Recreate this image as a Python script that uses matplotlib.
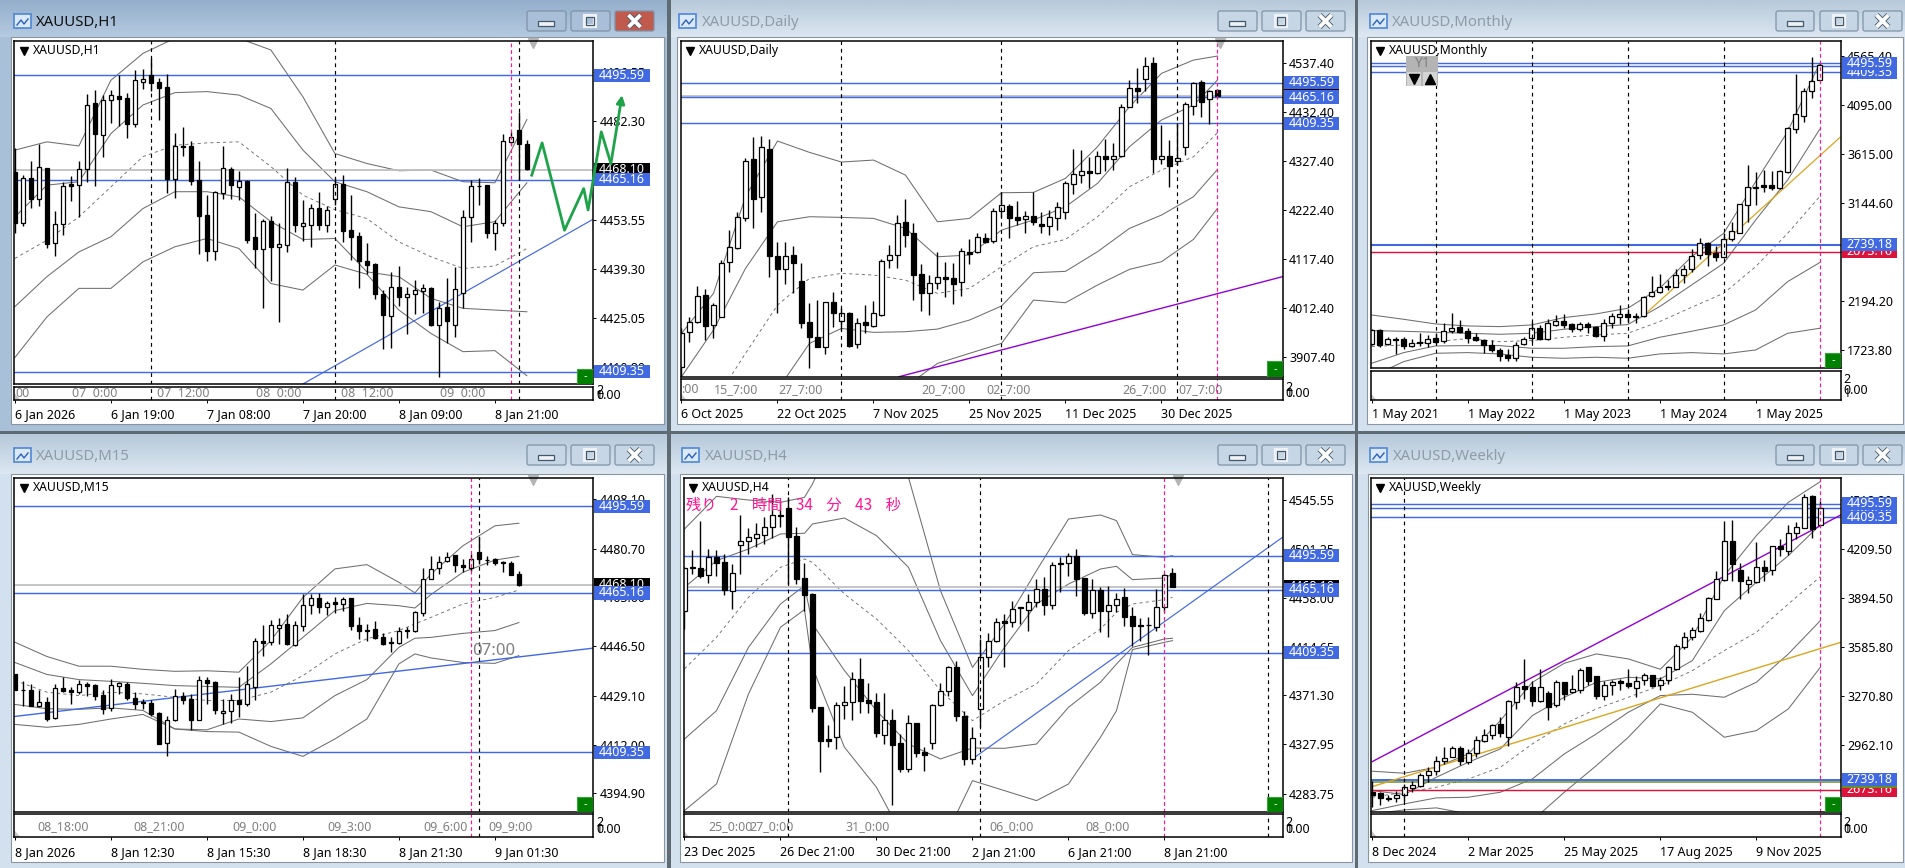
import numpy as np
import matplotlib
matplotlib.use("Agg")
import matplotlib.pyplot as plt
from matplotlib.patches import Rectangle, FancyBboxPatch, Polygon
from matplotlib.transforms import blended_transform_factory

plt.rcParams['font.family'] = ['Noto Sans', 'Noto Sans CJK JP', 'DejaVu Sans']

# ---- H1 ----
h1_high = [4474.3,4466.5,4470.6,4475.7,4468.7,4456.2,4464.6,4466.3,4470.5,4490.1,
           4491.2,4489.8,4491.4,4495.6,4490.3,4497.0,4497.5,4500.7,4494.9,4495.9,
           4478.8,4480.5,4476.5,4470.5,4460.8,4462.0,4475.0,4469.0,4467.8,4465.1,
           4455.4,4453.9,4454.6,4452.5,4468.5,4466.0,4459.3,4458.1,4461.7,4457.5,
           4465.6,4466.5,4460.7,4450.0,4446.7,4440.9,4433.1,4438.4,4440.1,4433.9,
           4436.0,4435.0,4433.9,4429.7,4436.5,4439.9,4456.5,4465.1,4465.6,4463.6,
           4453.4,4478.4,4479.1,4484.8,4476.7]
h1_low = [4449.6,4451.7,4457.1,4457.5,4445.2,4443.0,4449.0,4458.9,4454.4,4464.6,
          4463.3,4471.9,4481.7,4480.8,4477.3,4480.4,4491.7,4491.0,4482.5,4461.4,
          4459.8,4472.0,4463.6,4443.6,4441.6,4441.8,4459.6,4459.5,4459.3,4446.9,
          4439.4,4427.9,4435.6,4423.8,4444.1,4450.0,4447.4,4445.7,4450.5,4450.0,
          4457.8,4447.1,4441.8,4433.7,4437.7,4430.4,4416.0,4416.2,4428.4,4420.3,
          4426.1,4426.5,4422.8,4407.9,4417.8,4419.5,4427.8,4447.0,4457.7,4448.2,
          4444.7,4451.7,4475.2,4465.1,4468.1]
h1_top = [4467.3,4465.8,4465.8,4468.8,4468.5,4452.2,4463.5,4463.9,4468.2,4486.8,
          4487.4,4488.5,4489.7,4489.4,4488.9,4494.1,4494.6,4495.6,4493.6,4492.0,
          4475.0,4475.1,4475.0,4465.1,4454.9,4461.5,4468.5,4468.3,4464.7,4464.8,
          4448.4,4453.2,4453.3,4446.4,4464.4,4464.5,4452.5,4457.1,4457.1,4456.5,
          4463.8,4463.8,4450.5,4448.8,4441.6,4440.7,4432.0,4433.9,4433.9,4432.0,
          4433.0,4433.6,4433.6,4428.0,4428.2,4433.3,4454.4,4463.5,4463.5,4463.6,
          4452.5,4476.3,4477.5,4479.5,4475.7]
h1_bottom = [4452.7,4452.7,4459.6,4459.6,4446.5,4446.7,4452.2,4463.4,4463.7,4468.4,
             4478.6,4478.3,4488.5,4488.7,4481.4,4481.5,4493.7,4493.4,4491.9,4465.3,
             4465.5,4474.8,4464.9,4454.7,4444.5,4444.5,4461.2,4463.6,4463.1,4447.6,
             4445.1,4445.1,4445.7,4445.7,4446.3,4452.1,4451.8,4452.1,4452.0,4452.1,
             4459.6,4450.3,4448.6,4441.6,4440.5,4432.0,4425.8,4425.6,4431.2,4431.2,
             4432.1,4432.9,4423.0,4423.0,4424.2,4423.0,4432.3,4454.4,4463.3,4449.8,
             4449.8,4452.5,4476.2,4475.6,4468.2]
h1_color = "BWBWBWWBWW" "BWWBBWWBBB" "WBBBBWWBWB" "BWBWWBWWBW" "WBBBBBBWBW" "WWBWBWWWBB" "WWWBB"
h1_band_x = list(range(0, 65, 4))
h1_upper2 = [4473.8,4476.2,4475.0,4494.1,4501.9,4506.3,4506.3,4506.3,4502.9,4489.3,4472.8,4469.9,4467.8,4468.0,4464.6,4464.3,4482.7]
h1_upper1 = [4454.4,4463.6,4464.6,4478.6,4486.9,4490.5,4490.8,4489.8,4485.9,4473.8,4464.6,4461.7,4457.3,4455.9,4451.5,4453.0,4464.3]
h1_mid = [4442.3,4447.6,4454.4,4463.1,4471.9,4475.2,4475.9,4476.2,4469.0,4460.7,4456.5,4453.9,4447.1,4442.8,4439.4,4440.1,4445.2]
h1_lower1 = [4428.3,4437.0,4444.2,4448.6,4456.8,4461.7,4461.7,4460.2,4453.0,4447.8,4448.1,4438.4,4437.0,4430.7,4427.8,4427.3,4426.8]
h1_lower2 = [4413.5,4425.3,4433.6,4433.6,4441.3,4445.7,4448.1,4445.2,4435.0,4433.1,4440.4,4437.7,4427.3,4420.5,4415.2,4415.5,4408.2]
h1_yticks = [4496.55, 4482.30, 4453.55, 4439.30, 4425.05, 4410.80]
h1_dates = ["6 Jan 2026", "6 Jan 19:00", "7 Jan 08:00", "7 Jan 20:00", "8 Jan 09:00", "8 Jan 21:00"]
h1_sep_pos = [0, 7.2, 17.8, 30.2, 40.8, 53.2]
h1_sep_text = ["00", "07  0:00", "07  12:00", "08  0:00", "08  12:00", "09  0:00"]
h1_trend_x = [36.0, 72.2]
h1_trend_y = [4405.8, 4453.6]
h1_arrow_x = [64.6, 65.9, 68.7, 71.1, 71.65, 73.3, 74.5, 75.9]
h1_arrow_y = [4466.5, 4475.9, 4450.5, 4462.6, 4456.4, 4479.1, 4469.9, 4489.8]

# ---- M15 ----
m15_high = [4436.8,4434.2,4433.3,4431.0,4428.6,4433.1,4435.6,4432.1,4434.8,4433.9,
            4433.1,4431.0,4435.1,4433.9,4433.9,4430.4,4428.1,4427.7,4423.3,4422.2,
            4431.5,4430.4,4429.8,4436.0,4435.6,4434.2,4428.1,4429.8,4435.6,4439.7,
            4449.4,4454.1,4455.7,4456.4,4457.8,4455.2,4464.8,4464.8,4465.3,4462.2,
            4463.6,4463.9,4463.4,4456.6,4454.3,4455.5,4451.3,4449.6,4453.1,4453.1,
            4459.0,4473.9,4478.1,4478.1,4479.5,4478.4,4477.1,4478.8,4484.7,4478.2,
            4477.4,4476.5,4476.5,4472.8]
m15_low = [4431.0,4425.7,4425.4,4425.1,4420.2,4421.0,4430.4,4426.1,4429.8,4429.2,
           4427.5,4422.8,4423.7,4429.8,4427.5,4424.6,4424.6,4422.2,4412.1,4407.9,
           4420.2,4426.3,4417.2,4420.5,4426.1,4422.6,4419.1,4419.5,4421.6,4425.7,
           4427.7,4443.2,4447.1,4447.3,4447.1,4446.7,4451.7,4457.8,4458.0,4457.6,
           4458.0,4459.0,4452.2,4449.1,4448.3,4449.1,4447.1,4444.4,4447.3,4449.4,
           4451.4,4457.2,4470.1,4471.8,4476.0,4472.5,4472.5,4473.0,4475.3,4475.1,
           4475.1,4472.5,4471.4,4467.7]
m15_top = [4436.8,4431.2,4431.2,4426.9,4426.9,4431.8,4431.8,4431.2,4433.3,4433.3,
           4432.8,4429.3,4432.8,4433.5,4433.1,4428.4,4426.9,4426.5,4423.0,4420.5,
           4428.9,4428.9,4427.9,4434.5,4434.5,4433.8,4423.7,4427.8,4427.6,4433.1,
           4448.2,4448.2,4454.1,4454.1,4454.3,4454.0,4460.9,4463.4,4463.4,4461.5,
           4461.9,4463.2,4463.4,4453.8,4452.3,4452.4,4449.6,4447.9,4451.7,4452.1,
           4458.4,4470.0,4473.5,4475.9,4477.7,4478.4,4474.9,4477.2,4479.5,4476.8,
           4477.0,4476.0,4475.6,4471.7]
m15_bottom = [4431.2,4431.0,4425.6,4425.6,4421.0,4421.3,4430.7,4430.3,4430.3,4432.7,
              4429.1,4424.6,4424.8,4432.4,4428.4,4426.3,4426.5,4422.8,4412.3,4412.5,
              4420.5,4427.8,4420.7,4420.7,4433.5,4424.0,4423.0,4423.7,4426.1,4426.1,
              4432.1,4447.8,4447.9,4453.0,4447.3,4447.1,4453.7,4460.9,4460.2,4460.2,
              4461.4,4461.3,4453.7,4452.0,4452.0,4449.4,4447.3,4447.5,4447.6,4451.7,
              4452.0,4458.3,4470.2,4473.8,4476.3,4475.1,4474.2,4474.0,4477.0,4476.6,
              4475.7,4475.7,4471.6,4468.1]
m15_color = "BBBWBWBBWB" "BBWWBBBBBW" "WBBWBBWWBW" "WBWWBWWWBW" "BWBBBBBBWB" "WWWWWBBWBB" "BBBB"
m15_band_x = [0, 4, 8, 12, 16, 20, 24, 28, 32, 36, 40, 44, 48, 50, 52, 56, 60, 63]
m15_upper2 = [4447.9,4442.9,4439.5,4439.5,4438.4,4437.7,4437.9,4437.4,4448.5,4463.6,4473.6,4475.1,4468.9,4465.2,4471.8,4481.7,4488.7,4489.6]
m15_upper1 = [4440.8,4436.6,4434.8,4434.2,4433.5,4432.7,4432.4,4432.1,4440.3,4449.6,4459.0,4461.5,4460.7,4459.9,4464.6,4472.4,4476.7,4478.0]
m15_mid = [4434.5,4430.4,4429.2,4430.4,4429.8,4428.6,4427.5,4427.5,4430.4,4436.2,4443.8,4449.1,4452.0,4454.3,4456.6,4461.3,4463.6,4466.2]
m15_lower1 = [4426.1,4424.6,4424.4,4424.9,4424.0,4417.5,4417.2,4421.0,4420.1,4421.4,4429.2,4434.8,4446.1,4449.3,4449.6,4451.0,4452.0,4454.8]
m15_lower2 = [4419.1,4418.1,4419.1,4421.0,4422.6,4417.5,4416.6,4416.4,4411.4,4407.9,4414.0,4421.0,4440.3,4443.8,4442.4,4440.8,4440.5,4443.2]
m15_yticks = [4498.10, 4480.70, 4463.60, 4446.50, 4429.10, 4412.00, 4394.90]
m15_dates = ["8 Jan 2026", "8 Jan 12:30", "8 Jan 15:30", "8 Jan 18:30", "8 Jan 21:30", "9 Jan 01:30"]
m15_sep_pos = [2.8, 14.8, 27.2, 39.1, 51.1, 59.2]
m15_sep_text = ["08_18:00", "08_21:00", "09_0:00", "09_3:00", "09_6:00", "09_9:00"]
m15_trend_x = [0.0, 72.2]
m15_trend_y = [4421.9, 4445.8]

# ---- H4 ----
h4_high = [4485.3,4500.7,4526.3,4501.6,4500.7,4497.2,4488.3,4531.6,4520.3,4524.5,
           4529.8,4550.6,4544.7,4547.6,4520.9,4488.8,4462.1,4360.6,4344.9,4365.1,
           4379.9,4391.8,4404.5,4382.0,4373.1,4373.1,4359.4,4336.9,4354.1,4346.4,
           4325.0,4363.6,4382.0,4397.7,4402.2,4357.0,4342.8,4421.5,4426.8,4439.9,
           4443.7,4455.6,4449.7,4461.5,4474.6,4477.0,4489.7,4494.8,4497.8,4501.6,
           4475.8,4474.9,4467.5,4468.7,4462.1,4466.9,4449.7,4439.9,4441.4,4466.0,
           4479.9,4484.7]
h4_low = [4430.4,4479.4,4475.8,4471.3,4477.9,4460.4,4448.5,4479.3,4497.2,4503.1,
          4506.1,4511.4,4520.9,4470.4,4470.4,4446.7,4356.2,4303.3,4325.6,4323.5,
          4349.9,4349.3,4355.9,4355.3,4334.5,4328.0,4273.9,4303.3,4303.3,4316.1,
          4304.2,4323.5,4362.1,4371.0,4348.1,4309.6,4310.1,4342.8,4396.2,4418.5,
          4396.2,4431.9,4434.8,4428.3,4449.7,4443.1,4448.2,4463.0,4477.9,4460.0,
          4443.1,4440.2,4427.4,4423.5,4445.2,4432.7,4415.5,4419.4,4407.5,4428.3,
          4445.2,4468.1]
h4_top = [4484.7,4485.3,4484.7,4494.2,4494.2,4490.0,4479.9,4509.0,4512.0,4514.7,
          4521.5,4531.6,4531.9,4538.1,4512.9,4475.5,4461.3,4360.6,4332.4,4362.4,
          4365.1,4385.5,4385.5,4367.1,4365.1,4349.3,4349.3,4328.6,4346.4,4346.4,
          4320.5,4363.0,4374.9,4396.2,4396.2,4352.6,4333.0,4405.7,4420.0,4436.3,
          4437.2,4448.2,4449.7,4454.7,4465.7,4465.7,4487.1,4489.1,4495.1,4495.7,
          4475.8,4465.1,4465.1,4452.0,4456.8,4459.2,4441.6,4433.9,4434.2,4449.7,
          4478.2,4479.9]
h4_bottom = [4446.7,4484.4,4477.6,4478.2,4489.5,4465.4,4464.5,4505.5,4509.0,4511.7,
             4514.4,4521.5,4531.3,4512.6,4474.9,4460.6,4360.0,4330.9,4330.9,4334.5,
             4362.4,4365.1,4366.6,4364.8,4338.0,4336.3,4327.4,4306.0,4306.0,4319.7,
             4318.5,4329.1,4363.0,4374.9,4353.2,4314.9,4314.9,4359.4,4405.7,4420.0,
             4436.0,4436.9,4449.0,4447.6,4454.7,4452.0,4452.0,4488.0,4488.8,4474.9,
             4444.3,4444.3,4446.1,4446.1,4452.0,4441.4,4433.3,4433.3,4433.6,4432.4,
             4449.7,4468.1]
h4_color = "WWBWBBWWWW" "WWBBBBBBBW" "WWBBBWBBWB" "BWWWBBWWWW" "BWBWWBWBWB" "BWBWWBBBBW" "WB"
h4_band_x = [0, 4, 8, 12, 15, 16, 20, 24, 28, 32, 36, 40, 44, 48, 52, 54, 56, 60, 61]
h4_upper2 = [4519.4,4548.5,4545.2,4543.2,4547.6,4559.5,4621.8,4621.8,4565.4,4464.5,4396.2,4434.8,4482.3,4528.3,4531.9,4526.9,4496.6,4494.2,4495.7]
h4_upper1 = [4467.5,4491.2,4501.6,4515.0,4515.6,4523.9,4529.2,4513.5,4485.3,4420.0,4371.0,4414.0,4452.6,4470.4,4483.8,4486.2,4474.3,4475.8,4479.4]
h4_mid = [4394.8,4423.0,4458.6,4485.3,4492.7,4489.7,4461.5,4439.3,4411.1,4375.5,4348.7,4366.5,4381.4,4411.1,4430.4,4445.2,4452.6,4456.5,4458.6]
h4_lower1 = [4332.4,4357.6,4414.0,4452.6,4468.9,4434.8,4393.3,4357.6,4327.9,4314.6,4324.4,4324.1,4327.9,4360.6,4382.9,4399.2,4414.0,4421.5,4422.1]
h4_lower2 = [4268.6,4292.3,4372.5,4431.9,4447.6,4396.2,4325.0,4289.4,4236.0,4236.0,4295.3,4286.4,4277.5,4292.3,4333.9,4357.6,4412.0,4418.5,4420.0]
h4_yticks = [4545.55, 4501.25, 4458.00, 4414.65, 4371.30, 4327.95, 4283.75]
h4_dates = ["23 Dec 2025", "26 Dec 21:00", "30 Dec 21:00", "2 Jan 21:00", "6 Jan 21:00", "8 Jan 21:00"]
h4_sep_pos = [3.0, 8.1, 20.1, 38.1, 50.1]
h4_sep_text = ["25_0:00", "27_0:00", "31_0:00", "06_0:00", "08_0:00"]
h4_trend_x = [36.4, 74.75]
h4_trend_y = [4316.7, 4512.0]

# ---- Daily ----
d1_high = [3969.5,3994.5,4060.0,4053.0,4023.0,4116.0,4180.0,4219.0,4333.8,4380.0,
           4381.7,4374.5,4155.2,4155.2,4146.0,4108.8,4023.0,4030.2,4026.7,4046.7,
           4012.4,4005.0,3991.0,4019.5,4028.0,4117.4,4148.0,4212.4,4246.7,4194.5,
           4107.4,4083.8,4132.4,4112.4,4108.8,4141.0,4160.2,4174.5,4173.1,4226.7,
           4262.4,4236.0,4241.7,4221.7,4262.4,4219.5,4223.0,4241.0,4286.0,4353.8,
           4351.7,4337.4,4350.2,4374.5,4366.0,4450.2,4501.7,4526.7,4551.7,4551.7,
           4405.2,4373.0,4408.8,4455.2,4498.0,4501.7,4480.2,4481.7]
d1_low = [3866.0,3941.0,3981.7,3944.5,3948.0,3993.0,4091.0,4139.5,4200.2,4183.8,
          4219.5,4080.2,4003.0,4064.5,4044.5,3969.5,3885.2,3930.0,3914.5,3973.0,
          3966.0,3929.0,3928.0,3958.8,3973.0,3996.7,4098.0,4098.8,4144.5,4030.2,
          4007.4,3998.0,4053.0,4037.4,4021.7,4038.8,4107.4,4130.2,4153.0,4153.0,
          4207.4,4163.8,4191.0,4174.5,4191.0,4173.1,4169.5,4180.2,4203.8,4257.4,
          4281.7,4269.5,4300.2,4307.4,4308.8,4336.0,4443.0,4451.7,4478.8,4303.0,
          4321.7,4273.0,4319.5,4341.0,4426.7,4423.0,4407.4,4467.4]
d1_top = [3960.2,3983.8,4039.5,4040.2,4018.8,4110.2,4143.0,4207.4,4327.4,4333.0,
          4357.4,4355.0,4125.2,4125.2,4127.4,4070.2,3982.4,3950.2,4025.2,4025.2,
          4001.7,4001.7,3980.2,3982.4,4001.7,4114.5,4126.0,4194.5,4196.7,4173.1,
          4085.2,4067.4,4078.8,4079.5,4076.7,4134.5,4132.4,4164.5,4163.0,4220.2,
          4233.0,4231.7,4207.4,4209.5,4209.5,4193.0,4207.4,4228.8,4280.2,4299.5,
          4306.0,4306.0,4338.8,4338.8,4338.8,4443.0,4483.8,4483.8,4531.7,4537.4,
          4338.8,4338.8,4333.8,4449.5,4494.5,4497.4,4478.8,4480.2]
d1_bottom = [3887.4,3960.9,3983.8,3975.2,3976.0,3994.5,4111.0,4141.7,4206.0,4246.0,
             4251.7,4125.2,4097.4,4096.0,4110.2,3980.2,3951.7,3930.2,3930.2,4001.7,
             3984.6,3932.4,3935.2,3977.4,3975.2,3998.0,4115.2,4127.4,4170.2,4084.5,
             4046.0,4044.5,4067.4,4076.0,4064.5,4069.5,4128.8,4133.8,4155.2,4157.4,
             4221.7,4205.2,4201.7,4204.5,4198.0,4189.5,4189.5,4206.7,4219.5,4279.5,
             4298.8,4301.7,4302.4,4333.0,4333.0,4338.0,4444.5,4478.8,4504.5,4331.7,
             4333.0,4318.0,4328.0,4358.8,4446.7,4455.2,4460.2,4468.1]
d1_color = "WWWBWWWWWB" "WBBWBBBBWB" "WBWBWWWWBB" "BWWBBWBWBW" "WBBWBBWWWW" "WBWBWWWBWB" "WBWWWBWB"
d1_band_x = list(range(0, 65, 4)) + [67]
d1_upper2 = [3958.8,4044.5,4251.7,4371.0,4346.7,4326.0,4330.2,4298.0,4198.0,4205.2,4260.2,4261.0,4291.0,4358.8,4444.5,4516.0,4544.5,4553.1]
d1_upper1 = [3866.0,3966.0,4098.0,4198.0,4208.8,4207.4,4205.2,4183.8,4123.0,4126.7,4180.2,4201.7,4230.2,4280.2,4358.8,4416.0,4448.0,4501.7]
d1_mid = [3780.0,3808.8,3916.0,4019.5,4076.7,4087.4,4083.8,4073.0,4044.5,4055.2,4101.7,4144.5,4160.2,4208.8,4273.0,4308.8,4337.4,4388.8]
d1_lower1 = [3744.5,3744.5,3758.8,3837.4,3937.4,3969.5,3961.0,3962.4,3968.0,3987.4,4017.4,4088.8,4091.7,4133.8,4183.8,4212.4,4251.7,4310.2]
d1_lower2 = [3673.0,3673.0,3673.0,3673.0,3673.0,3673.0,3673.0,3844.5,3894.5,3916.0,3937.4,4030.2,4024.5,4062.4,4096.0,4112.4,4160.2,4226.7]
d1_yticks = [4537.40, 4432.40, 4327.40, 4222.40, 4117.40, 4012.40, 3907.40]
d1_dates = ["6 Oct 2025", "22 Oct 2025", "7 Nov 2025", "25 Nov 2025", "11 Dec 2025", "30 Dec 2025"]
d1_sep_pos = [-0.1, 4.07, 12.05, 30.0, 38.06, 55.06, 62.1]
d1_sep_text = [":00", "15_7:00", "27_7:00", "20_7:00", "02_7:00", "26_7:00", "07_7:00"]
d1_trend_x = [27.2, 75.1]
d1_trend_y = [3866.0, 4080.2]

# ---- Monthly ----
mn_high = [1920.7,1920.7,1843.3,1843.3,1843.3,1824.0,1882.0,1866.0,1882.0,1978.8,
           2075.6,2011.0,1930.4,1882.0,1824.0,1817.5,1736.9,1727.2,1801.3,1843.3,
           1994.9,1962.7,2017.5,2059.4,2069.0,1985.2,1994.9,1994.9,1953.0,2017.5,
           2075.6,2156.0,2114.3,2082.0,2243.3,2436.9,2456.2,2398.2,2501.4,2543.3,
           2694.9,2801.4,2769.0,2727.2,2849.8,2962.7,3133.7,3511.1,3440.2,3462.7,
           3453.0,3462.7,3875.7,4391.8,4253.0,4553.1,4495.0]
mn_low = [1769.0,1753.0,1769.0,1682.0,1727.0,1753.0,1759.4,1753.0,1778.8,1791.7,
          1888.5,1882.0,1791.7,1807.8,1688.4,1704.6,1617.5,1617.5,1617.5,1765.9,
          1801.3,1817.5,1817.5,1953.0,1930.4,1898.1,1907.8,1882.0,1849.7,1811.0,
          1933.6,1972.3,1994.9,1985.2,2036.8,2230.4,2275.6,2301.4,2327.2,2372.4,
          2478.8,2598.2,2533.7,2585.3,2607.9,2778.8,2849.8,2962.7,3124.0,3253.0,
          3269.0,3275.6,3430.5,3824.0,3930.5,4159.6,4333.8]
mn_top = [1914.3,1914.3,1827.0,1827.0,1824.0,1785.0,1794.8,1830.3,1833.6,1908.0,
          1936.8,1940.0,1901.4,1843.3,1814.3,1772.3,1717.5,1669.0,1772.3,1824.0,
          1930.4,1930.4,1978.8,1998.0,1998.0,1969.0,1969.0,1969.0,1946.5,1985.2,
          2046.5,2065.8,2065.8,2049.8,2236.9,2285.3,2333.6,2340.0,2449.8,2507.8,
          2633.7,2753.0,2753.0,2656.2,2798.2,2869.0,3130.5,3295.0,3301.4,3317.6,
          3317.6,3456.3,3866.0,4007.9,4224.0,4320.9,4475.7]
mn_bottom = [1775.6,1769.0,1775.6,1820.7,1762.6,1762.6,1785.0,1785.0,1798.0,1804.6,
             1904.6,1891.7,1840.0,1814.3,1772.3,1717.5,1665.9,1640.0,1640.0,1775.6,
             1833.6,1824.0,1830.3,1965.9,1965.9,1927.2,1920.7,1946.5,1853.0,1853.0,
             1985.2,2043.3,2043.3,2043.3,2046.5,2243.3,2285.3,2333.6,2333.6,2449.8,
             2507.8,2636.9,2649.8,2624.0,2624.0,2794.9,2856.3,3127.2,3291.7,3301.4,
             3285.3,3285.3,3446.6,3862.8,3988.6,4224.0,4337.0]
mn_color = "WBWBBWBWBW" "WBBBBBBBWW" "WBWWBBWBBW" "WWBBWWWBWW" "WWBBWWWWBB" "BWWWWWW"
mn_band_x = list(range(0, 57, 4))
mn_upper2 = [2059.4,2017.5,1972.3,1953.0,1946.5,1962.7,2033.6,2069.0,2123.9,2317.5,2624.0,2849.8,3349.8,3833.7,4495.0]
mn_upper1 = [1908.0,1901.4,1891.7,1882.0,1872.3,1882.0,1920.7,1946.5,1965.9,2140.0,2349.8,2559.5,2978.8,3365.9,3856.3]
mn_mid = [1753.0,1769.0,1801.3,1830.3,1801.3,1811.0,1843.3,1866.0,1882.0,1994.9,2133.6,2269.0,2527.2,2849.8,3204.7]
mn_lower1 = [1591.7,1694.9,1759.4,1762.6,1762.6,1736.9,1736.9,1753.0,1759.4,1843.3,1901.4,1962.7,2107.8,2382.0,2565.9]
mn_lower2 = [1462.6,1607.8,1688.4,1694.9,1682.0,1649.8,1640.0,1649.8,1640.0,1682.0,1694.9,1682.0,1720.7,1882.0,1930.4]
mn_yticks = [4565.40, 4095.00, 3615.00, 3144.60, 2664.60, 2194.20, 1723.80]
mn_dates = ["1 May 2021", "1 May 2022", "1 May 2023", "1 May 2024", "1 May 2025"]
mn_trend_x = [34.3, 58.55]
mn_trend_y = [2075.6, 3778.9]

# ---- Weekly ----
w1_high = [2733.0,2658.7,2643.8,2665.0,2711.8,2733.0,2779.7,2817.9,2892.0,2945.0,
           2955.7,2955.7,2934.5,3019.4,3061.8,3093.6,3136.0,3246.4,3358.8,3507.3,
           3365.2,3443.7,3305.8,3373.7,3358.8,3403.3,3450.0,3454.3,3401.2,3369.4,
           3373.7,3380.0,3443.7,3401.2,3416.0,3407.6,3390.6,3464.9,3602.8,3677.0,
           3708.8,3797.9,3899.8,4069.5,4387.7,4392.0,4116.0,4033.4,4249.8,4137.4,
           4228.6,4271.0,4360.0,4377.0,4557.4,4553.1,4510.7]
w1_low = [2563.3,2580.2,2605.7,2595.0,2605.7,2658.7,2690.5,2722.4,2771.2,2839.0,
          2881.5,2834.8,2839.0,2881.5,2977.0,2998.1,3013.0,2955.7,3189.2,3252.8,
          3210.3,3235.8,3119.1,3199.7,3246.4,3293.0,3288.8,3344.0,3252.8,3248.5,
          3280.3,3310.0,3322.7,3267.6,3344.0,3331.2,3310.0,3348.2,3437.3,3571.0,
          3628.2,3677.0,3751.3,3887.1,4005.9,4005.9,3889.2,3929.5,3993.1,4005.9,
          4044.0,4165.0,4171.3,4273.1,4338.9,4277.4,4358.0]
w1_top = [2658.7,2652.4,2622.7,2639.6,2690.5,2703.3,2771.2,2796.6,2860.2,2879.3,
          2938.8,2938.8,2911.2,2989.7,3025.8,3085.2,3091.5,3237.9,3327.0,3333.4,
          3327.0,3327.0,3288.8,3358.8,3358.8,3314.3,3437.3,3454.3,3397.0,3339.8,
          3358.8,3367.3,3352.4,3365.2,3403.3,3403.3,3371.6,3454.3,3588.0,3645.2,
          3689.8,3766.0,3893.4,4014.3,4256.2,4256.2,4071.6,4008.0,4090.7,4090.7,
          4224.4,4226.5,4307.0,4345.3,4536.2,4544.7,4470.4]
w1_bottom = [2643.8,2622.7,2618.4,2620.5,2643.8,2688.4,2701.2,2771.2,2796.6,2858.1,
             2885.7,2860.2,2851.8,2911.2,2987.6,3025.8,3038.5,3008.8,3231.6,3318.6,
             3242.1,3242.1,3204.0,3216.7,3286.7,3299.4,3312.2,3369.4,3274.0,3274.0,
             3339.8,3352.4,3337.6,3320.6,3373.7,3337.6,3339.8,3373.7,3445.8,3581.6,
             3645.2,3687.6,3757.6,3891.3,4010.1,4114.0,4005.9,3986.8,3999.5,4069.5,
             4071.6,4205.3,4196.8,4307.0,4343.2,4334.7,4362.2]
w1_color = "BBBWWWWWWW" "WBWWWWBWWB" "BWBWBWWBBW" "WBBWWBWWWW" "WWWWWBBWWB" "WBWWWBW"
w1_band_x = list(range(0, 57, 4))
w1_upper2 = [2792.4,2779.7,2817.9,2902.7,3114.9,3358.8,3479.7,3539.2,3507.3,3441.6,3645.2,4037.7,4292.2,4504.4,4635.9]
w1_upper1 = [2669.3,2643.8,2754.2,2849.7,2934.5,3146.7,3263.4,3358.8,3390.6,3380.0,3496.7,3814.9,3995.2,4165.0,4362.2]
w1_mid = [2626.9,2658.7,2690.5,2743.4,2817.9,2966.4,3093.6,3189.1,3263.4,3337.6,3433.0,3560.4,3677.0,3857.4,4031.3]
w1_lower1 = [2542.0,2584.5,2622.7,2626.9,2658.7,2743.4,2902.7,3030.0,3167.9,3274.0,3282.5,3263.4,3358.8,3539.2,3751.0]
w1_lower2 = [2520.9,2546.3,2559.1,2520.9,2457.2,2478.4,2658.7,2828.4,3008.8,3220.9,3167.9,3008.8,3051.0,3189.1,3454.3]
w1_yticks = [4518.20, 4209.50, 3894.50, 3585.80, 3270.80, 2962.10]
w1_dates = ["8 Dec 2024", "2 Mar 2025", "25 May 2025", "17 Aug 2025", "9 Nov 2025"]
w1_purple_x = [0.0, 58.56]
w1_purple_y = [2853.9, 4423.8]
w1_orange_x = [0.0, 58.56]
w1_orange_y = [2694.8, 3613.4]

# ---- price levels ----
BID = 4468.10
LEVEL_HI = 4495.59
LEVEL_MID = 4465.16
LEVEL_LO = 4409.35
LEVEL_BLUE2 = 2739.18
LEVEL_RED = 2673.16
LEVEL_OLIVE = 2725.0

BLUE = '#4169e1'
RED = '#dc143c'
OLIVE = '#6b8e23'
PINK = '#ff1493'
GREY_BAND = '#6e6e6e'
FW, FH = 1906, 868

fig = plt.figure(figsize=(FW / 100, FH / 100), dpi=100, facecolor='#5f6b73')
bg = fig.add_axes([0, 0, 1, 1], zorder=0)


def gradient(x0, y0, x1, y1, c0, c1):
    col = np.array([matplotlib.colors.to_rgb(c0), matplotlib.colors.to_rgb(c1)])
    img = np.linspace(col[0], col[1], 32).reshape(32, 1, 3)
    bg.imshow(img, extent=(x0, x1, y1, y0), aspect='auto', zorder=1, interpolation='bilinear')


def button(x0, y0, x1, y1, kind, active):
    fc = '#c05a4c' if kind == 'close' and active else ('#a9bfd8' if active else '#c6d6e5')
    bg.add_patch(FancyBboxPatch((x0 + 1, y0 + 1), x1 - x0 - 2, y1 - y0 - 2,
                                boxstyle='round,pad=0,rounding_size=2', fc=fc, ec='#7f93a8', lw=0.9, zorder=2))
    cx, cy = (x0 + x1) / 2, (y0 + y1) / 2
    if kind == 'min':
        bg.add_patch(Rectangle((cx - 8, cy + 0), 16, 5, fc='#eef2f6', ec='#44586c', lw=0.9, zorder=3))
    elif kind == 'max':
        bg.add_patch(Rectangle((cx - 5, cy - 5), 10, 10, fc='none', ec='#eef2f6', lw=3, zorder=3))
        bg.add_patch(Rectangle((cx - 4, cy - 4), 8, 8, fc='none', ec='#44586c', lw=0.9, zorder=3))
    else:
        bg.plot([cx - 6, cx + 6], [cy - 6, cy + 6], color='#44586c', lw=4, zorder=3, solid_capstyle='butt')
        bg.plot([cx - 6, cx + 6], [cy + 6, cy - 6], color='#44586c', lw=4, zorder=3, solid_capstyle='butt')
        bg.plot([cx - 6, cx + 6], [cy - 6, cy + 6], color='white', lw=2.8, zorder=4, solid_capstyle='butt')
        bg.plot([cx - 6, cx + 6], [cy + 6, cy - 6], color='white', lw=2.8, zorder=4, solid_capstyle='butt')


def window(x0, y0, x1, y1, inner_x0, inner_y0, inner_y1, title, title_x, icon_x, btn_x, active):
    edge = '#a8c0d8' if active else '#d3e1ee'
    bg.add_patch(Rectangle((x0, y0), x1 - x0, y1 - y0, fc=edge, ec='none', zorder=0.5))
    if active:
        gradient(x0, y0, x1, inner_y0, '#94aecb', '#b4cae0')
    else:
        gradient(x0, y0, x1, inner_y0, '#b7c9da', '#dce7f1')
    bg.add_patch(Rectangle((inner_x0, inner_y0), x1 - 3 - inner_x0, inner_y1 - inner_y0,
                           fc='white', ec='#8b959f', lw=0.8, zorder=1.5))
    cy = y0 + 22
    bg.add_patch(Rectangle((icon_x, cy - 8), 17, 14, fc='#dbe8f7', ec='#4f86d6', lw=1.2, zorder=2))
    bg.plot([icon_x + 3, icon_x + 7, icon_x + 10, icon_x + 14], [cy + 3, cy - 2, cy + 2, cy - 3],
            color='#2b62b8', lw=1, zorder=3)
    bg.text(title_x, cy, title, fontsize=10.7, va='center', ha='left', zorder=3,
            color='#111111' if active else '#8f9ca8')
    for (a, b), kind in zip(btn_x, ['min', 'max', 'close']):
        button(a, y0 + 10, b, y0 + 32, kind, active)


def draw_chart(title, frame, sub_y, ylim, first_bar, highs, lows, tops, bottoms, colors,
               band_x, bands, yticks, dates, seps, pink, sep_pos=(), sep_text=(), shift=None,
               sub_labels=(10, 20, 20), corner=True):
    x0, y0, x1, y1 = frame
    w, h = x1 - x0, y1 - y0
    ax = fig.add_axes([x0 / FW, 1 - y1 / FH, w / FW, h / FH], zorder=2, facecolor='white')
    sub = fig.add_axes([x0 / FW, 1 - sub_y[1] / FH, w / FW, (sub_y[1] - sub_y[0]) / FH], zorder=2, facecolor='white')
    xlim = (first_bar, first_bar + w / 8.0)
    ax.set_xlim(xlim)
    ax.set_ylim(ylim)
    sub.set_xlim(xlim)
    sub.set_ylim(0, 1)
    for a in (ax, sub):
        for s in a.spines.values():
            s.set_linewidth(1.1)
            s.set_zorder(6)

    ups, mids, downs = bands[:2], bands[2], bands[3:]
    for y in ups + downs:
        ax.plot(band_x, y, color=GREY_BAND, lw=0.75, zorder=2)
    ax.plot(band_x, mids, color=GREY_BAND, lw=0.65, dashes=(3.5, 3.5), zorder=2)

    xs = np.arange(len(highs))
    ax.vlines(xs, lows, highs, color='black', lw=1.0, zorder=3)
    tops = np.array(tops)
    bottoms = np.array(bottoms)
    face = ['white' if c == 'W' else 'black' for c in colors]
    ax.bar(xs, tops - bottoms, bottom=bottoms, width=0.56, color=face, edgecolor='black', lw=0.9, zorder=4)

    for a in (ax, sub):
        for s in seps:
            a.axvline(s, color='black', lw=0.85, dashes=(3.2, 3.2), zorder=5)
        a.axvline(pink, color=PINK, lw=0.85, dashes=(3.2, 2.4), zorder=5)

    ax.set_xticks([])
    ax.yaxis.tick_right()
    ax.set_yticks(yticks)
    ax.set_yticklabels(['%.2f' % t for t in yticks])
    ax.tick_params(axis='y', length=2.2, width=0.7, pad=2.4, labelsize=9)

    sub.set_yticks([])
    sub.set_xticks(np.arange(len(dates)) * 12)
    sub.set_xticklabels(dates, ha='left')
    sub.tick_params(axis='x', length=2.4, width=0.7, pad=3.6, labelsize=9)
    for pos, txt in zip(sep_pos, sep_text):
        sub.text(pos, 0.47, txt, fontsize=9, color='#808080', va='center', ha='left', clip_on=True)

    sh = sub_y[1] - sub_y[0]
    tr = blended_transform_factory(sub.transAxes, sub.transAxes)
    for txt, py in zip(['2', '0.00', '1'], sub_labels):
        sub.text(1 + 3.0 / w, 1 - py / sh, txt, transform=tr, fontsize=9, va='center', ha='left', clip_on=False)
    if corner:
        sub.add_patch(Polygon([(0, 0), (6.0 / w, 0), (0, 7.0 / sh)], closed=True, transform=sub.transAxes,
                              fc='#c8c8c8', ec='none', zorder=1))

    ax.plot(6.0 / w + 0.002 + 2.0 / w, 1 - 10.0 / h, marker='v', ms=5.2, color='black', transform=ax.transAxes, zorder=7)
    ax.text(18.0 / w, 1 - 10.0 / h, title, transform=ax.transAxes, fontsize=8.8, va='center', ha='left', zorder=7)

    if shift is not None:
        ax.plot([shift], [1.0 - 2.0 / h], marker='v', ms=6.5, color='#b4b4b4',
                transform=ax.get_xaxis_transform(), zorder=6, clip_on=False)

    # green minus button
    ax.add_patch(Rectangle((1 - 15.5 / w, 0), 15.5 / w, 15.5 / h, transform=ax.transAxes, fc='#008000', ec='#36a336', lw=0.8, zorder=7))
    ax.text(1 - 7.8 / w, 7.5 / h, '-', transform=ax.transAxes, color='white', fontsize=8, fontweight='bold', ha='center', va='center', zorder=8)
    return ax, sub


def level(ax, price, color, lw=1.05):
    ax.axhline(price, color=color, lw=lw, zorder=2.5)


tag_z = [9.0]


def tag(ax, price, color, text=None):
    # later tags sit on top of earlier ones, box and text together
    y0, y1 = ax.get_ylim()
    bb = ax.get_position()
    w_px, h_px = bb.width * FW, bb.height * FH
    half = (y1 - y0) / h_px * 6.6
    tr = blended_transform_factory(ax.transAxes, ax.transData)
    tag_z[0] += 0.1
    ax.add_patch(Rectangle((1 + 1.2 / w_px, price - half), 55.5 / w_px, 2 * half, transform=tr, fc=color, ec='none',
                           zorder=tag_z[0], clip_on=False))
    if text is None:
        text = '%.2f' % price
    tag_z[0] += 0.01
    ax.text(1 + 29.0 / w_px, price, text, transform=tr, color='white', fontsize=9, ha='center', va='center',
            zorder=tag_z[0], clip_on=False)


# window chrome
btn1 = [(526, 567), (570, 611), (614, 655)]
btn2 = [(1217, 1258), (1261, 1302), (1305, 1346)]
btn3 = [(1775, 1815), (1819, 1859), (1862, 1903)]
window(0, 0, 667, 431, 11, 37, 424, "XAUUSD,H1", 36, 14, btn1, True)
window(671, 0, 1355, 431, 677, 37, 424, "XAUUSD,Daily", 702, 679, btn2, False)
window(1358, 0, 1906, 431, 1367, 37, 424, "XAUUSD,Monthly", 1392, 1370, btn3, False)
window(0, 434, 667, 868, 11, 474, 862, "XAUUSD,M15", 36, 14, btn1, False)
window(671, 434, 1355, 868, 680, 474, 862, "XAUUSD,H4", 705, 682, btn2, False)
window(1358, 434, 1906, 868, 1368, 474, 862, "XAUUSD,Weekly", 1393, 1370, btn3, False)
bg.set_xlim(0, FW)
bg.set_ylim(FH, 0)
bg.axis('off')

# H1
ax, sub = draw_chart("XAUUSD,H1", (14.5, 40.7, 593, 384), (387, 400), (4405.8, 4505.6), -0.05,
                     h1_high, h1_low, h1_top, h1_bottom, h1_color, h1_band_x,
                     [h1_upper2, h1_upper1, h1_mid, h1_lower1, h1_lower2], h1_yticks, h1_dates,
                     [17, 40, 63], 62, h1_sep_pos, h1_sep_text, shift=64.8, sub_labels=(4, 8.5, 8.5))
level(ax, BID, '#c0c0c0', 1.3)
for p in (LEVEL_HI, LEVEL_MID, LEVEL_LO):
    level(ax, p, BLUE)
ax.plot(h1_trend_x, h1_trend_y, color=BLUE, lw=0.85, zorder=2.5)
tag(ax, BID, 'black')
for p in (LEVEL_MID, LEVEL_HI, LEVEL_LO):
    tag(ax, p, BLUE)
ax.plot(h1_arrow_x[:-1], h1_arrow_y[:-1], color='#1fa34a', lw=2.0, zorder=11, clip_on=False)
ax.annotate('', xy=(h1_arrow_x[-1], h1_arrow_y[-1]), xytext=(h1_arrow_x[-2], h1_arrow_y[-2]),
            arrowprops=dict(arrowstyle='-|>', color='#1fa34a', lw=2.0, shrinkA=0, shrinkB=0, mutation_scale=12),
            zorder=11, annotation_clip=False)

# Daily
ax, sub = draw_chart("XAUUSD,Daily", (680.6, 40.7, 1282.7, 376.7), (378.7, 400), (3866, 4586), -0.11,
                     d1_high, d1_low, d1_top, d1_bottom, d1_color, d1_band_x,
                     [d1_upper2, d1_upper1, d1_mid, d1_lower1, d1_lower2], d1_yticks, d1_dates,
                     [20, 40, 62], 67, d1_sep_pos, d1_sep_text, shift=67.3, sub_labels=(8.5, 14.5, 14.5))
level(ax, BID, '#c0c0c0', 1.3)
for p in (LEVEL_HI, LEVEL_MID, LEVEL_LO):
    level(ax, p, BLUE)
ax.plot(d1_trend_x, d1_trend_y, color='#9400d3', lw=1.0, zorder=2.5)
tag(ax, BID, 'black')
for p in (LEVEL_HI, LEVEL_MID, LEVEL_LO):
    tag(ax, p, BLUE)

# Monthly
ax, sub = draw_chart("XAUUSD,Monthly", (1370.6, 40.7, 1840.8, 368.3), (370.7, 400), (1543, 4714.4), -0.13,
                     mn_high, mn_low, mn_top, mn_bottom, mn_color, mn_band_x,
                     [mn_upper2, mn_upper1, mn_mid, mn_lower1, mn_lower2], mn_yticks, mn_dates,
                     [8, 20, 32, 44], 56, sub_labels=(8.5, 20, 23))
for p in (LEVEL_HI, LEVEL_MID, LEVEL_LO):
    level(ax, p, BLUE)
level(ax, LEVEL_BLUE2, BLUE, 1.5)
level(ax, LEVEL_RED, RED, 1.05)
ax.plot(mn_trend_x, mn_trend_y, color='#daa520', lw=0.9, zorder=2.5)
for p in (LEVEL_MID, LEVEL_LO, LEVEL_HI):
    tag(ax, p, BLUE)
tag(ax, LEVEL_RED, RED)
tag(ax, LEVEL_BLUE2, BLUE)
w_m = 470.2
h_m = 327.6
ax.add_patch(Rectangle((35.5 / w_m, 1 - 45.5 / h_m), 32 / w_m, 30 / h_m, transform=ax.transAxes, fc='#b4b4b4', ec='none', zorder=7))
ax.add_patch(Rectangle((36.5 / w_m, 1 - 45.5 / h_m), 14 / w_m, 14 / h_m, transform=ax.transAxes, fc='#d4d4d4', ec='none', zorder=7))
ax.add_patch(Rectangle((52.5 / w_m, 1 - 45.5 / h_m), 14 / w_m, 14 / h_m, transform=ax.transAxes, fc='#d4d4d4', ec='none', zorder=7))
ax.text(51.5 / w_m, 1 - 23 / h_m, 'Y1', transform=ax.transAxes, fontsize=10, color='#7d7d7d', ha='center', va='center', zorder=8)
ax.plot(43.5 / w_m, 1 - 38.5 / h_m, marker='v', ms=7, color='black', transform=ax.transAxes, zorder=8)
ax.plot(59.5 / w_m, 1 - 38.5 / h_m, marker='^', ms=7, color='black', transform=ax.transAxes, zorder=8)

# M15
ax, sub = draw_chart("XAUUSD,M15", (14.5, 477.7, 593, 812.3), (814.3, 837.3), (4388.3, 4505.56), -0.05,
                     m15_high, m15_low, m15_top, m15_bottom, m15_color, m15_band_x,
                     [m15_upper2, m15_upper1, m15_mid, m15_lower1, m15_lower2], m15_yticks, m15_dates,
                     [58], 57, m15_sep_pos, m15_sep_text, shift=64.8, sub_labels=(8, 15, 15))
level(ax, BID, '#c0c0c0', 1.3)
for p in (LEVEL_HI, LEVEL_MID, LEVEL_LO):
    level(ax, p, BLUE)
ax.plot(m15_trend_x, m15_trend_y, color=BLUE, lw=1.0, zorder=2.5)
ax.text(57.1, 4444.8, "07:00", fontsize=12, color='#808080', ha='left', va='center', zorder=6)
tag(ax, BID, 'black')
for p in (LEVEL_MID, LEVEL_HI, LEVEL_LO):
    tag(ax, p, BLUE)

# H4
ax, sub = draw_chart("XAUUSD,H4", (683.6, 477.7, 1282.7, 812.3), (814.3, 837.3), (4267.1, 4565.1), -0.11,
                     h4_high, h4_low, h4_top, h4_bottom, h4_color, h4_band_x,
                     [h4_upper2, h4_upper1, h4_mid, h4_lower1, h4_lower2], h4_yticks, h4_dates,
                     [13, 37, 73], 60, h4_sep_pos, h4_sep_text, shift=61.7, sub_labels=(8, 15, 15))
level(ax, BID, '#c0c0c0', 1.3)
for p in (LEVEL_HI, LEVEL_MID, LEVEL_LO):
    level(ax, p, BLUE)
ax.plot(h4_trend_x, h4_trend_y, color=BLUE, lw=0.85, zorder=2.5)
ax.text(2.0 / 599.1, 1 - 28.0 / 334.6, "残り    2    時間    34    分    43    秒",
        transform=ax.transAxes, fontsize=11, color=PINK, ha='left', va='center', zorder=8,
        family=['Noto Sans CJK JP', 'DejaVu Sans'])
tag(ax, BID, 'black')
for p in (LEVEL_HI, LEVEL_MID, LEVEL_LO):
    tag(ax, p, BLUE)

# Weekly
ax, sub = draw_chart("XAUUSD,Weekly", (1371.3, 477.7, 1840.8, 812.3), (814.3, 837.3), (2531, 4661), -0.13,
                     w1_high, w1_low, w1_top, w1_bottom, w1_color, w1_band_x,
                     [w1_upper2, w1_upper1, w1_mid, w1_lower1, w1_lower2], w1_yticks, w1_dates,
                     [4], 56, sub_labels=(8, 15, 15))
for p in (LEVEL_HI, LEVEL_MID, LEVEL_LO):
    level(ax, p, BLUE)
level(ax, LEVEL_BLUE2, BLUE, 1.4)
level(ax, LEVEL_OLIVE, OLIVE, 1.1)
level(ax, LEVEL_RED, RED, 1.05)
ax.plot(w1_purple_x, w1_purple_y, color='#9400d3', lw=1.0, zorder=2.5)
ax.plot(w1_orange_x, w1_orange_y, color='#daa520', lw=1.0, zorder=2.5)
for p in (LEVEL_MID, LEVEL_LO, LEVEL_HI):
    tag(ax, p, BLUE)
tag(ax, LEVEL_RED, RED)
tag(ax, LEVEL_OLIVE, OLIVE, text='')
tag(ax, LEVEL_BLUE2, BLUE)

fig.savefig("out.png", dpi=100)
